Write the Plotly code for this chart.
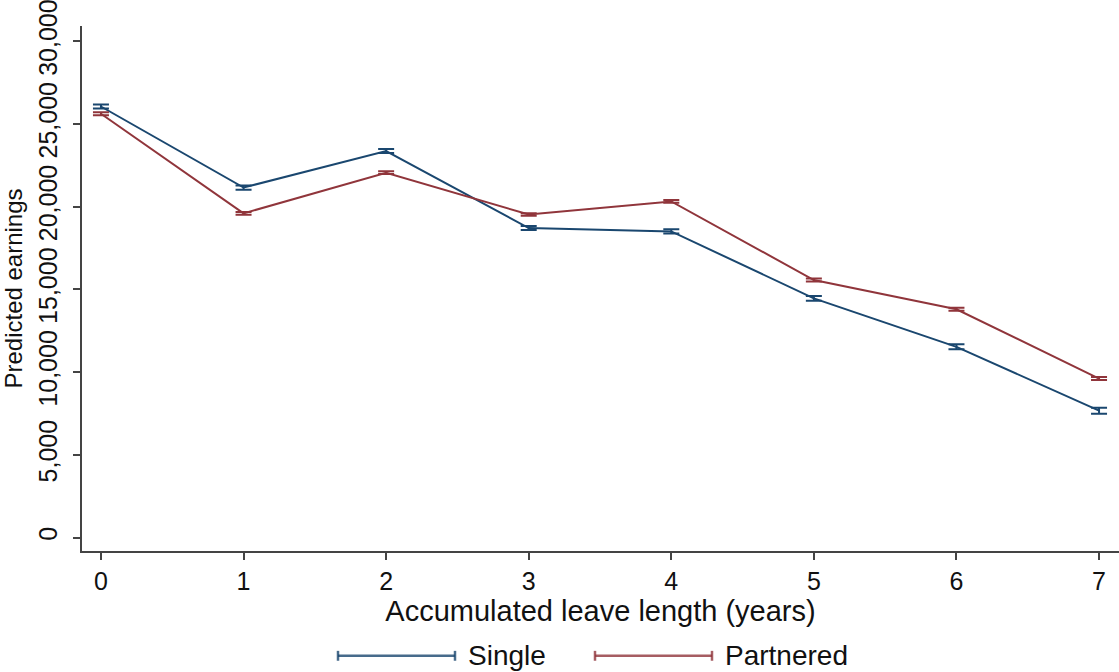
import plotly.graph_objects as go

years = [0, 1, 2, 3, 4, 5, 6, 7]
single = [26060, 21160, 23370, 18710, 18510, 14460, 11530, 7670]
single_err = [120, 130, 120, 120, 130, 140, 150, 180]
partnered = [25620, 19600, 22060, 19530, 20320, 15570, 13800, 9610]
partnered_err = [90, 80, 80, 80, 80, 90, 90, 90]
y_ticks = [0, 5000, 10000, 15000, 20000, 25000, 30000]
y_ticktext = ["0", "5,000", "10,000", "15,000", "20,000", "25,000", "30,000"]
grid_vals = [5000, 10000, 15000, 20000, 25000]

C_SINGLE = "#1a476f"
C_PART = "#90353b"
FONT = "Liberation Sans, Arial, sans-serif"

W, H = 1119, 672
L, R, T, B = 82, 0, 20, 121
PW, PH = W - L - R, H - T - B
YR = [-813, 30927]
XR = [-0.133, 7.14]

fig = go.Figure()
fig.add_trace(go.Scatter(
    x=years, y=single, name="Single", mode="lines", yaxis="y2",
    line=dict(color=C_SINGLE, width=2),
    error_y=dict(type="data", array=single_err, color=C_SINGLE, thickness=2, width=8),
    showlegend=False))
fig.add_trace(go.Scatter(
    x=years, y=partnered, name="Partnered", mode="lines", yaxis="y2",
    line=dict(color=C_PART, width=2),
    error_y=dict(type="data", array=partnered_err, color=C_PART, thickness=2, width=8),
    showlegend=False))

def px_x(p):
    return (p - L) / PW

def px_y(p):
    return (H - B - p) / PH

shapes = []
annotations = []
legend_items = [("Single", C_SINGLE, 338, 455, 466), ("Partnered", C_PART, 595, 712, 723)]
ky = 657
for name, col, x0, x1, tx in legend_items:
    shapes.append(dict(type="line", xref="paper", yref="paper", x0=px_x(x0), x1=px_x(x1),
                       y0=px_y(ky), y1=px_y(ky), line=dict(color=col, width=2.5), opacity=0.8))
    for xe in (x0, x1):
        shapes.append(dict(type="line", xref="paper", yref="paper", x0=px_x(xe), x1=px_x(xe),
                           y0=px_y(ky - 5), y1=px_y(ky + 5), line=dict(color=col, width=2.5), opacity=0.8))
    annotations.append(dict(text=name, xref="paper", yref="paper", x=px_x(tx), y=px_y(ky),
                            xanchor="left", yanchor="middle", showarrow=False,
                            font=dict(family=FONT, size=28, color="#111")))

fig.update_layout(
    width=W, height=H,
    margin=dict(l=L, r=R, t=T, b=B, pad=0),
    paper_bgcolor="white", plot_bgcolor="white",
    font=dict(family=FONT, color="#111"),
    shapes=shapes, annotations=annotations,
    xaxis=dict(
        range=XR, tickvals=years, ticktext=[str(v) for v in years],
        showgrid=False, zeroline=False,
        showline=True, linecolor="#444", linewidth=1.5,
        ticks="outside", ticklen=7, tickcolor="#444", tickwidth=1.5,
        tickfont=dict(size=25, family=FONT, color="#111"),
        title=dict(text="Accumulated leave length (years)", standoff=0,
                   font=dict(size=29, family=FONT, color="#111")),
    ),
    yaxis=dict(
        range=YR, tickvals=grid_vals, showticklabels=False, ticks="",
        showgrid=True, gridcolor="#e6f0f1", gridwidth=1.5,
        zeroline=False, showline=False,
    ),
    yaxis2=dict(
        range=YR, overlaying="y", side="left", anchor="x",
        tickvals=y_ticks, ticktext=y_ticktext, tickangle=-90,
        ticklabeloverflow="allow", ticklabelstandoff=6,
        showgrid=False, zeroline=False,
        showline=True, linecolor="#444", linewidth=1.5,
        ticks="outside", ticklen=7, tickcolor="#444", tickwidth=1.5,
        tickfont=dict(size=25, family=FONT, color="#111"),
        title=dict(text="Predicted earnings", standoff=5,
                   font=dict(size=24, family=FONT, color="#111")),
    ),
)

fig.write_html("out.html", config={"displayModeBar": False},
               post_script="document.body.style.margin='0';document.body.style.padding='0';")
